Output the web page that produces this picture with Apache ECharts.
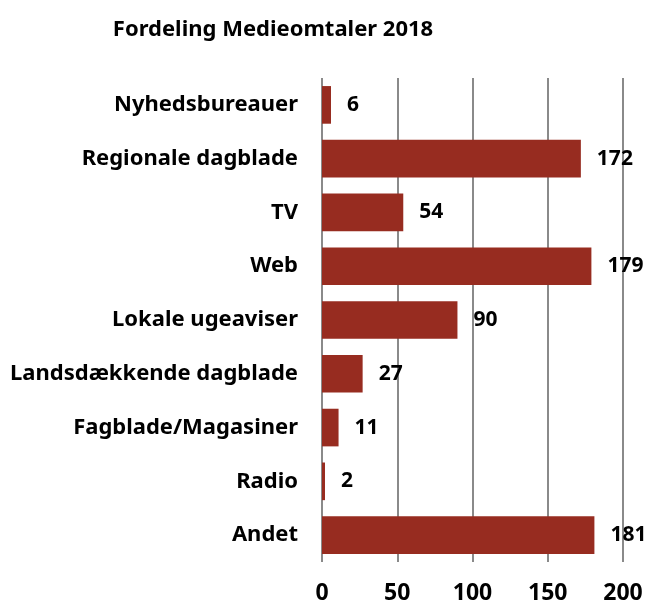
<!DOCTYPE html>
<html lang="da">
<head>
    <meta charset="UTF-8">
    <title>Fordeling Medieomtaler 2018</title>
    <script src="https://cdn.jsdelivr.net/npm/echarts@6/dist/echarts.min.js"></script>
    <style>
        body { margin: 0; background: #fff; }
    </style>
</head>
<body>
    <div id="main" style="width:651px;height:606px"></div>
    <script>
        var categories = ['Nyhedsbureauer', 'Regionale dagblade', 'TV', 'Web', 'Lokale ugeaviser',
            'Landsdækkende dagblade', 'Fagblade/Magasiner', 'Radio', 'Andet'];
        var values = [6, 172, 54, 179, 90, 27, 11, 2, 181];
        var ticks = [0, 50, 100, 150, 200];

        var font = 'Noto Sans';
        var myChart = echarts.init(document.getElementById('main'));
        var option = {
            title: {
                text: 'Fordeling Medieomtaler 2018',
                left: 268, top: 14, textAlign: 'center',
                textStyle: { fontFamily: font, fontSize: 22, fontWeight: 'bold', color: '#000' }
            },
            grid: { left: 322, right: 28, top: 78, bottom: 44 },
            xAxis: {
                type: 'value',
                min: ticks[0], max: ticks[ticks.length - 1], interval: 50,
                axisLine: { show: false },
                axisTick: { show: false },
                splitLine: { lineStyle: { color: '#8a8a8a', width: 2 } },
                axisLabel: { margin: 20, fontFamily: font, fontSize: 23, fontWeight: 'bold', color: '#000' }
            },
            yAxis: {
                type: 'category',
                data: categories,
                inverse: true,
                axisLine: { show: false },
                axisTick: { show: false },
                axisLabel: { margin: 24, fontFamily: font, fontSize: 22, fontWeight: 'bold', color: '#000' }
            },
            series: [{
                type: 'bar',
                data: values,
                barCategoryGap: '30%',
                itemStyle: { color: '#972c20' },
                label: {
                    show: true, position: 'right', distance: 16,
                    fontFamily: font, fontSize: 21, fontWeight: 'bold', color: '#000'
                }
            }]
        };
        myChart.setOption(option);
    </script>
</body>
</html>
